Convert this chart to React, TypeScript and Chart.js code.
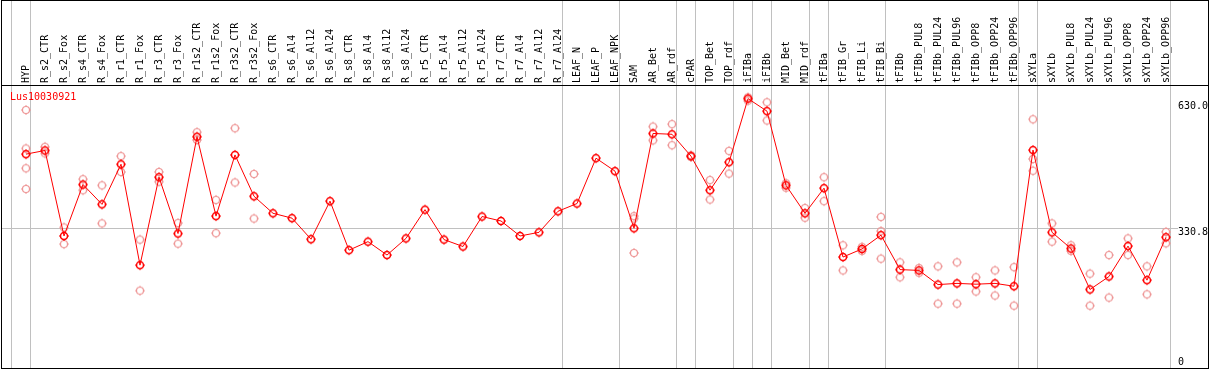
import React, { useEffect, useRef } from 'react';
import { Chart, registerables } from 'chart.js';

Chart.register(...registerables);

const seriesTitle = 'Lus10030921';

const categories = [
  'HYP', 'R_s2_CTR', 'R_s2_Fox', 'R_s4_CTR', 'R_s4_Fox', 'R_r1_CTR', 'R_r1_Fox', 'R_r3_CTR', 'R_r3_Fox',
  'R_r1s2_CTR', 'R_r1s2_Fox', 'R_r3s2_CTR', 'R_r3s2_Fox', 'R_s6_CTR', 'R_s6_Al4', 'R_s6_Al12', 'R_s6_Al24',
  'R_s8_CTR', 'R_s8_Al4', 'R_s8_Al12', 'R_s8_Al24', 'R_r5_CTR', 'R_r5_Al4', 'R_r5_Al12', 'R_r5_Al24',
  'R_r7_CTR', 'R_r7_Al4', 'R_r7_Al12', 'R_r7_Al24', 'LEAF_N', 'LEAF_P', 'LEAF_NPK', 'SAM', 'AR_Bet', 'AR_rdf',
  'cPAR', 'TOP_Bet', 'TOP_rdf', 'iFIBa', 'iFIBb', 'MID_Bet', 'MID_rdf', 'tFIBa', 'tFIB_Gr', 'tFIB_Li', 'tFIB_Bi',
  'tFIBb', 'tFIBb_PUL8', 'tFIBb_PUL24', 'tFIBb_PUL96', 'tFIBb_OPP8', 'tFIBb_OPP24', 'tFIBb_OPP96',
  'sXYLa', 'sXYLb', 'sXYLb_PUL8', 'sXYLb_PUL24', 'sXYLb_PUL96', 'sXYLb_OPP8', 'sXYLb_OPP24', 'sXYLb_OPP96',
];

const meanValues = [
  513, 522, 311, 438, 389, 488, 239, 456, 317,
  556, 360, 511, 409, 367, 355, 303, 397,
  276, 297, 264, 305, 376, 302, 285, 359,
  348, 311, 320, 372, 391, 503, 471, 330, 564, 562,
  508, 424, 493, 650, 619, 436, 367, 429, 259, 279, 313,
  228, 226, 191, 194, 192, 194, 187,
  523, 320, 280, 179, 211, 286, 202, 308,
];

const replicateValues: number[][] = [
  [622, 527, 478, 427], [531, 515], [332, 291], [451, 424], [436, 342], [508, 469], [302, 176], [469, 445], [343, 292],
  [567, 548], [400, 318], [577, 443], [464, 354], [], [], [], [],
  [], [], [], [], [], [], [], [],
  [], [], [], [], [], [], [], [360, 354, 269], [581, 547], [587, 535],
  [510, 506], [449, 401], [521, 465], [653, 645], [641, 596], [441, 430], [380, 356], [456, 397], [288, 226], [284, 274], [358, 323, 255],
  [246, 209], [232, 220], [236, 144], [246, 144], [209, 174], [226, 164], [234, 139],
  [599, 501, 472], [342, 297], [288, 274], [218, 139], [264, 159], [305, 264], [236, 167], [321, 293],
];

// category indices after which a vertical separator is drawn (-1 = before the first)
const groupEnds = [-1, 0, 28, 31, 34, 35, 37, 38, 39, 41, 42, 45, 52, 53, 60];

const yTickValues = [0, 330.8, 630];
const yTickLabels = ['0', '330.8', '630.0'];
const referenceLineValue = 330.8;
const yMin = -17.3;
const yMax = 683.6;

const FONT = "'DejaVu Sans Mono', 'Liberation Mono', monospace";

function makeMarker(color: string, lw: number): HTMLCanvasElement {
  const c = document.createElement('canvas');
  c.width = 12;
  c.height = 12;
  const g = c.getContext('2d')!;
  g.strokeStyle = color;
  g.lineWidth = lw;
  g.beginPath();
  g.arc(6, 6, 3.5, 0, Math.PI * 2);
  g.stroke();
  g.lineWidth = 1;
  g.beginPath();
  g.moveTo(6, 1); g.lineTo(6, 3);
  g.moveTo(6, 9); g.lineTo(6, 11);
  g.moveTo(1, 6); g.lineTo(3, 6);
  g.moveTo(9, 6); g.lineTo(11, 6);
  g.stroke();
  return c;
}

export default function App() {
  const ref = useRef<HTMLCanvasElement | null>(null);

  useEffect(() => {
    document.body.style.margin = '0';
    const canvas = ref.current;
    if (!canvas) return;

    const meanMarker = makeMarker('#ff0000', 1.5);
    const repMarker = makeMarker('rgb(238,150,150)', 1.2);

    const repPoints: { x: string; y: number }[] = [];
    replicateValues.forEach((vals, i) => {
      vals.forEach((v) => repPoints.push({ x: categories[i], y: v }));
    });

    const framePlugin = {
      id: 'framePlugin',
      beforeDraw(chart: any) {
        const ctx = chart.ctx;
        ctx.save();
        ctx.fillStyle = '#ffffff';
        ctx.fillRect(0, 0, chart.width, chart.height);
        ctx.restore();
      },
      beforeDatasetsDraw(chart: any) {
        const ctx = chart.ctx;
        const xs = chart.scales.x;
        const ys = chart.scales.y;
        const step = xs.getPixelForValue(1) - xs.getPixelForValue(0);
        ctx.save();
        ctx.fillStyle = '#c0c0c0';
        groupEnds.forEach((i) => {
          const px = Math.round(xs.getPixelForValue(0) + step * i + 4);
          ctx.fillRect(px, 0, 1, 369);
        });
        const hy = Math.round(ys.getPixelForValue(referenceLineValue));
        ctx.fillRect(1, hy, 1177, 1);
        ctx.restore();
      },
      afterDraw(chart: any) {
        const ctx = chart.ctx;
        ctx.save();
        ctx.fillStyle = '#000000';
        ctx.fillRect(1, 0, 1208, 1);
        ctx.fillRect(1, 85, 1208, 1);
        ctx.fillRect(1, 368, 1208, 1);
        ctx.fillRect(1, 0, 1, 369);
        ctx.fillRect(1208, 0, 1, 369);
        ctx.fillStyle = '#ff0000';
        ctx.font = `10px ${FONT}`;
        ctx.textBaseline = 'middle';
        ctx.textAlign = 'left';
        ctx.fillText(seriesTitle, 10, 97.5);
        ctx.restore();
      },
    };

    const chart = new Chart(canvas, {
      type: 'line',
      data: {
        labels: categories,
        datasets: [
          {
            data: meanValues,
            borderColor: '#ff0000',
            borderWidth: 1,
            pointStyle: meanMarker as any,
            pointRadius: 4,
            clip: false as any,
            tension: 0,
          },
          {
            data: repPoints as any,
            showLine: false,
            borderColor: 'rgb(238,150,150)',
            pointStyle: repMarker as any,
            pointRadius: 4,
            clip: false as any,
          },
        ],
      },
      options: {
        animation: false,
        responsive: false,
        devicePixelRatio: 1,
        events: [],
        layout: { autoPadding: false, padding: { left: 26, right: 0, top: 0, bottom: 1 } },
        plugins: { legend: { display: false }, tooltip: { enabled: false }, title: { display: false } },
        scales: {
          x: {
            type: 'category',
            position: 'top',
            offset: false,
            grid: { display: false, drawTicks: false },
            border: { display: false },
            ticks: {
              autoSkip: false,
              maxRotation: 90,
              minRotation: 90,
              padding: 2,
              labelOffset: 12,
              color: '#000000',
              font: { family: FONT, size: 10 },
            },
            afterFit: (s: any) => {
              s.height = 85;
              s.paddingLeft = 0;
              s.paddingRight = 0;
            },
          },
          y: {
            type: 'linear',
            position: 'right',
            min: yMin,
            max: yMax,
            grid: { display: false, drawTicks: false },
            border: { display: false },
            afterBuildTicks: (s: any) => {
              s.ticks = yTickValues.map((v) => ({ value: v }));
            },
            ticks: {
              padding: 12,
              color: '#000000',
              font: { family: FONT, size: 10, lineHeight: 0.9 },
              callback: (v: any) => {
                const idx = yTickValues.indexOf(Number(v));
                if (idx < 0) return '';
                // the reference-line label sits just below its line
                return Number(v) === referenceLineValue ? ['', yTickLabels[idx]] : yTickLabels[idx];
              },
            },
            afterFit: (s: any) => {
              s.width = 43;
              s.paddingTop = 0;
              s.paddingBottom = 0;
            },
          },
        },
      },
      plugins: [framePlugin],
    });

    return () => chart.destroy();
  }, []);

  return (
    <div style={{ width: 1209, height: 370 }}>
      <canvas ref={ref} width={1209} height={370} style={{ display: 'block' }} />
    </div>
  );
}
